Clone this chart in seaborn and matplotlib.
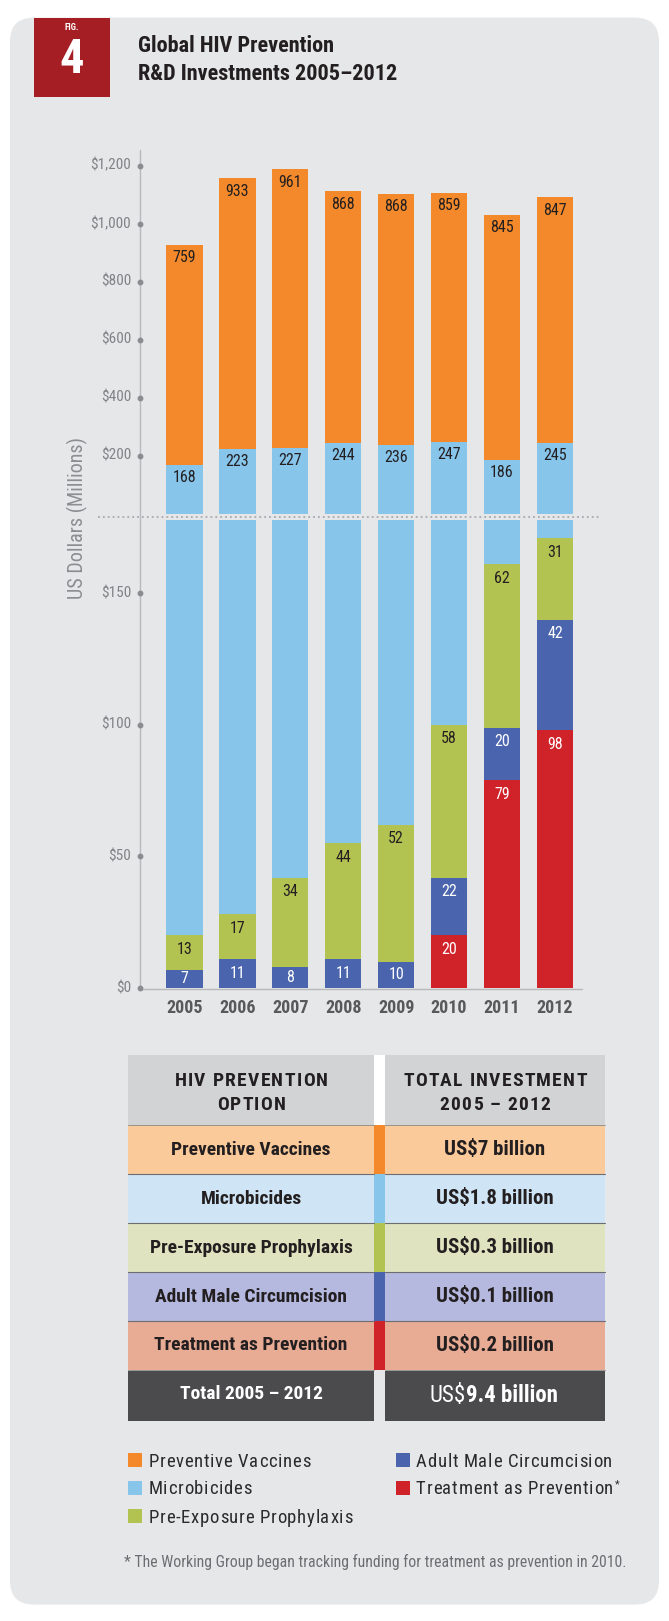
import numpy as np
import pandas as pd
import matplotlib
matplotlib.use("Agg")
import matplotlib.pyplot as plt
import seaborn as sns
from matplotlib import font_manager
from matplotlib.font_manager import FontProperties
from matplotlib.patches import FancyBboxPatch, Rectangle
from matplotlib.textpath import TextToPath

# ---------------- data ----------------
years = ["2005", "2006", "2007", "2008", "2009", "2010", "2011", "2012"]
vaccines = [759, 933, 961, 868, 868, 859, 845, 847]
microbicides = [168, 223, 227, 244, 236, 247, 186, 245]
prep = [13, 17, 34, 44, 52, 58, 62, 31]
circumcision = [7, 11, 8, 11, 10, 22, 20, 42]
tasp = [0, 0, 0, 0, 0, 20, 79, 98]

upper_ticks = [200, 400, 600, 800, 1000, 1200]
upper_tick_labels = ["$200", "$400", "$600", "$800", "$1,000", "$1,200"]
lower_ticks = [0, 50, 100, 150]
lower_tick_labels = ["$0", "$50", "$100", "$150"]

series_names = ["Preventive Vaccines", "Microbicides", "Pre-Exposure Prophylaxis",
                "Adult Male Circumcision", "Treatment as Prevention"]
table_totals = ["US$7 billion", "US$1.8 billion", "US$0.3 billion",
                "US$0.1 billion", "US$0.2 billion"]
grand_total_label = "Total 2005 \u2013 2012"
grand_total_prefix = "US$"
grand_total_value = "9.4 billion"

# ---------------- style ----------------
C_VAC = "#f3892a"
C_MIC = "#87c5eb"
C_PREP = "#b2c352"
C_AMC = "#4a64ad"
C_TASP = "#cf2229"
BG = "#e6e7e8"
DARK = "#231f20"

names = {f.name for f in font_manager.fontManager.ttflist}
COND = next((n for n in ["Roboto Condensed", "Liberation Sans Narrow", "Open Sans Condensed",
                         "DejaVu Sans"] if n in names), "DejaVu Sans")

sns.set_theme(style="white")
plt.rcParams["font.family"] = [COND, "DejaVu Sans"]

W, H = 669, 1621
fig = plt.figure(figsize=(W / 100, H / 100), dpi=100, facecolor="white")
bg = fig.add_axes([0, 0, 1, 1])
bg.set_xlim(0, W)
bg.set_ylim(H, 0)
bg.axis("off")


def rect_axes(l, t, r, b):
    return fig.add_axes([l / W, 1 - b / H, (r - l) / W, (b - t) / H])


_ttp = TextToPath()


def wpx(s, fp):
    w, h, d = _ttp.get_text_width_height_descent(s, fp, ismath=False)
    return w * 100 / 72


def char_widths(s, fp):
    sp = wpx("n n", fp) - wpx("nn", fp)
    return [sp if ch == " " else wpx(ch, fp) for ch in s]


def spaced(ax, xc, ybase, s, fp, track, color, ha="center"):
    widths = char_widths(s, fp)
    total = sum(widths) + track * (len(s) - 1)
    x = xc - total / 2 if ha == "center" else xc
    for ch, w in zip(s, widths):
        if ch != " ":
            ax.text(x, ybase, ch, fontproperties=fp, color=color, ha="left", va="baseline")
        x += w + track
    return x - track


# panel background
bg.add_patch(FancyBboxPatch((10, 17.6), 649, 1587, boxstyle="round,pad=0,rounding_size=24",
                            facecolor=BG, edgecolor="none"))
# fig badge
bg.add_patch(Rectangle((33.5, 17.6), 76, 79.5, facecolor="#a51e23", edgecolor="none"))
bg.text(71.5, 27, "FIG.", color="white", fontsize=6.5, fontweight="bold", ha="center", va="center")
bg.text(71.5, 60, "4", color="white", fontsize=35, fontweight="bold", ha="center", va="center")
# title
bg.text(138, 45.5, "Global HIV Prevention", fontsize=16, fontweight="bold", color=DARK,
        ha="left", va="center")
bg.text(138, 74.5, "R&D Investments 2005\u20132012", fontsize=16, fontweight="bold", color=DARK,
        ha="left", va="center")

# axis lines / break
AX_COL = "#b8b9bb"
bg.plot([140, 140], [150, 988.5], color=AX_COL, lw=1)
bg.plot([140, 582], [988.5, 988.5], color=AX_COL, lw=1)
bg.plot([98, 600], [516.8, 516.8], color="#9d9fa2", lw=1.1, ls=(0, (1.2, 2.0)))
bg.text(77, 518, "US Dollars (Millions)", rotation=90, fontsize=14.5, color="#8b8d90",
        ha="center", va="center")

# ---------------- chart axes ----------------
ax_up = rect_axes(140, 150, 581.5, 514)
ax_lo = rect_axes(140, 520, 581.5, 988)
for ax in (ax_up, ax_lo):
    ax.set_facecolor("none")

mic = np.array(microbicides)
vac = np.array(vaccines)
pr = np.array(prep)
amc = np.array(circumcision)
tp = np.array(tasp)

BW = 0.69
kw = dict(width=BW, saturation=1, linewidth=0, errorbar=None, order=years)

# upper panel: microbicides + vaccines
sns.barplot(x=years, y=mic + vac, color=C_VAC, ax=ax_up, **kw)
sns.barplot(x=years, y=mic, color=C_MIC, ax=ax_up, **kw)

# lower panel: stacked from treatment upward
cum_tp = tp
cum_amc = tp + amc
cum_pr = cum_amc + pr
cum_mic = cum_pr + mic
sns.barplot(x=years, y=cum_mic, color=C_MIC, ax=ax_lo, **kw)
sns.barplot(x=years, y=cum_pr, color=C_PREP, ax=ax_lo, **kw)
sns.barplot(x=years, y=cum_amc, color=C_AMC, ax=ax_lo, **kw)
sns.barplot(x=years, y=cum_tp, color=C_TASP, ax=ax_lo, **kw)

ax_up.set_ylim(0, 1254)
ax_lo.set_ylim(0, 177.9)
for ax in (ax_up, ax_lo):
    ax.set_xlim(-0.836, 7.5)
    ax.axis("off")

TICK_COL = "#808285"
for ax, ticks, labs in ((ax_up, upper_ticks, upper_tick_labels), (ax_lo, lower_ticks, lower_tick_labels)):
    ax.plot([0] * len(ticks), ticks, "o", ms=3.2, color="#8a8c8f",
            transform=ax.get_yaxis_transform(), clip_on=False)
    for t, lab in zip(ticks, labs):
        ax.annotate(lab, xy=(0, t), xycoords=ax.get_yaxis_transform(), xytext=(-6.5, 0),
                    textcoords="offset points", ha="right", va="center",
                    fontsize=11, color=TICK_COL)

LBL = 11.5


def seg_label(ax, i, bottom, top, text, color, off_px):
    tb = ax.transData.transform((i, top))[1]
    bb = ax.transData.transform((i, bottom))[1]
    off = min(off_px, (tb - bb) / 2)
    ax.annotate(text, xy=(i, top), xytext=(0, -off * 72 / 100), textcoords="offset points",
                ha="center", va="center", fontsize=LBL, color=color, annotation_clip=False)


for i in range(len(years)):
    seg_label(ax_up, i, mic[i], mic[i] + vac[i], str(vac[i]), DARK, 13)
    seg_label(ax_up, i, 0, mic[i], str(mic[i]), DARK, 12.5)
    if tp[i] > 0:
        seg_label(ax_lo, i, 0, cum_tp[i], str(tp[i]), "white", 14)
    if amc[i] > 0:
        seg_label(ax_lo, i, cum_tp[i], cum_amc[i], str(amc[i]), "white", 14)
    if pr[i] > 0:
        seg_label(ax_lo, i, cum_amc[i], cum_pr[i], str(pr[i]), DARK, 14)
    ax_lo.annotate(years[i], xy=(i, 0), xytext=(0, -20 * 0.72), textcoords="offset points",
                   ha="center", va="center", fontsize=13, fontweight="bold", color="#58595b",
                   annotation_clip=False)

# ---------------- table ----------------
LX0, LX1, GX1, RX1 = 128.3, 374, 385, 605
LC = (LX0 + LX1) / 2
RC = (GX1 + RX1) / 2
HEAD_T, HEAD_B = 1055, 1125
row_edges = [1125, 1174.2, 1223.2, 1272.2, 1321.2, 1369.8]
TOT_B = 1421
row_bg = ["#fbca9a", "#cfe4f4", "#dfe3bf", "#b5b8df", "#e8ab94"]
strip = [C_VAC, C_MIC, C_PREP, C_AMC, C_TASP]

bg.add_patch(Rectangle((LX0, HEAD_T), LX1 - LX0, HEAD_B - HEAD_T, fc="#d1d3d4", ec="none"))
bg.add_patch(Rectangle((GX1, HEAD_T), RX1 - GX1, HEAD_B - HEAD_T, fc="#d1d3d4", ec="none"))
bg.add_patch(Rectangle((LX1, HEAD_T), GX1 - LX1, HEAD_B - HEAD_T, fc="white", ec="none"))

fp_head = FontProperties(family=[COND, "DejaVu Sans"], weight="bold", size=14)
spaced(bg, LC, 1086.5, "HIV PREVENTION", fp_head, 1.3, DARK)
spaced(bg, LC, 1110, "OPTION", fp_head, 1.3, DARK)
spaced(bg, RC, 1086.5, "TOTAL INVESTMENT", fp_head, 1.3, DARK)
spaced(bg, RC, 1110, "2005 \u2013 2012", fp_head, 1.3, DARK)

for k in range(5):
    t, b = row_edges[k], row_edges[k + 1]
    bg.add_patch(Rectangle((LX0, t), LX1 - LX0, b - t, fc=row_bg[k], ec="none"))
    bg.add_patch(Rectangle((GX1, t), RX1 - GX1, b - t, fc=row_bg[k], ec="none"))
    bg.add_patch(Rectangle((LX1, t), GX1 - LX1, b - t, fc=strip[k], ec="none"))
    ym = (t + b) / 2
    bg.text(LC, ym, series_names[k], fontsize=14, fontweight="bold", color=DARK,
            ha="center", va="center")
    bg.text(RC, ym, table_totals[k], fontsize=15, fontweight="bold", color=DARK,
            ha="center", va="center")
for e in row_edges[1:-1]:
    bg.plot([LX0, LX1], [e, e], color="#6d6e71", lw=0.8)
    bg.plot([GX1, RX1], [e, e], color="#6d6e71", lw=0.8)
for e in (row_edges[0], row_edges[-1]):
    bg.plot([LX0, LX1], [e, e], color="#8a8a8a", lw=0.6)
    bg.plot([GX1, RX1], [e, e], color="#8a8a8a", lw=0.6)

bg.add_patch(Rectangle((LX0, row_edges[-1] + 0.8), LX1 - LX0, TOT_B - row_edges[-1] - 0.8,
                       fc="#4b4b4d", ec="none"))
bg.add_patch(Rectangle((GX1, row_edges[-1] + 0.8), RX1 - GX1, TOT_B - row_edges[-1] - 0.8,
                       fc="#4b4b4d", ec="none"))
bg.text(LC, 1394, grand_total_label, fontsize=14, fontweight="bold", color="white",
        ha="center", va="center")
bg.text(466, 1396, grand_total_prefix, fontsize=16.5, color="white", ha="right", va="center")
bg.text(466, 1396, grand_total_value, fontsize=16.5, fontweight="bold", color="white",
        ha="left", va="center")

# ---------------- legend ----------------
leg_pos = [(128.3, 1460.3), (128.3, 1488), (128.3, 1516.2), (396, 1460.3), (396, 1488)]
leg_cols = [C_VAC, C_MIC, C_PREP, C_AMC, C_TASP]
fp_leg = FontProperties(family=[COND, "DejaVu Sans"], size=13.5)
for k, ((x, y), c) in enumerate(zip(leg_pos, leg_cols)):
    bg.add_patch(Rectangle((x, y - 7), 14, 14, fc=c, ec="none"))
    lab = series_names[k]
    endx = spaced(bg, x + 20, y + 6.5, lab, fp_leg, 0.7, "#2b2b2b", ha="left")
    if k == 4:
        bg.text(endx + 1.5, y - 3.5, "*", fontsize=8, color="#2b2b2b", ha="left", va="center")

bg.text(124, 1561.5, "* The Working Group began tracking funding for treatment as prevention in 2010.",
        fontsize=11.3, color="#6d6e71", ha="left", va="center")

fig.savefig("out.png", dpi=100, facecolor="white")
